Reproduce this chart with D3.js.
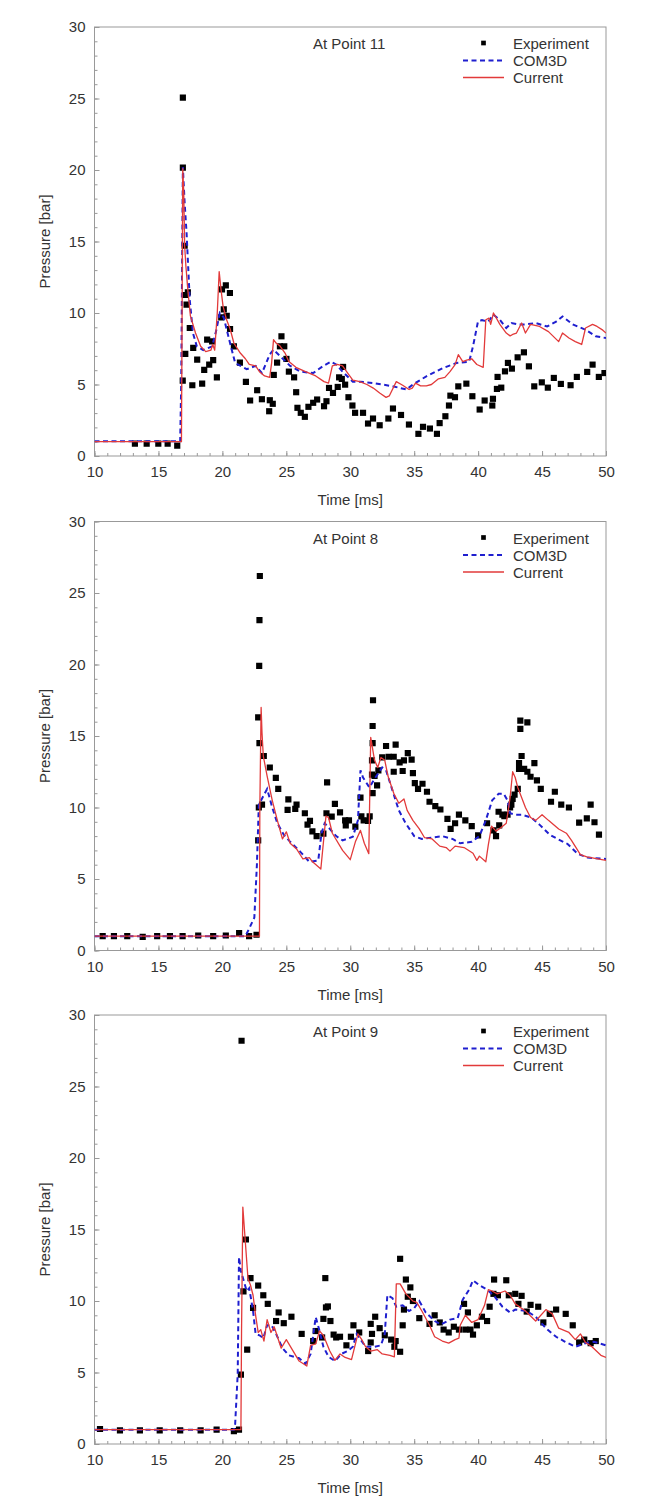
<!DOCTYPE html>
<html>
<head>
<meta charset="utf-8">
<script src="https://cdn.jsdelivr.net/npm/d3@7"></script>
<style>
  html, body { margin: 0; padding: 0; background: #fff; }
  svg { display: block; font-family: "Liberation Sans", Arial, sans-serif; }
</style>
</head>
<body>
<svg id="chart" width="665" height="1504"></svg>
<script>
// ---------- data ----------
const xTicks = [10, 15, 20, 25, 30, 35, 40, 45, 50];
const yTicks = [0, 5, 10, 15, 20, 25, 30];
const panelTitles = ["At Point 11", "At Point 8", "At Point 9"];
const legendLabels = ["Experiment", "COM3D", "Current"];
const xLabel = "Time [ms]";
const yLabel = "Pressure [bar]";

const p11Exp = [[13.16,0.87],[14.08,0.87],[14.99,0.87],[15.72,0.87],[16.47,0.73],
[16.91,25.06],[16.91,20.17],[17.05,14.7],[17.1,11.26],[17.3,11.44],[17.2,10.58],[17.45,8.95],[17.1,7.14],[17.72,7.56],[16.9,5.27],[17.65,4.95],[18.03,6.74],[18.42,5.06],[18.58,6.02],[18.81,8.14],[19.2,8.02],[18.97,6.39],[19.28,6.7],[19.57,5.5],[19.91,9.69],[19.97,11.65],[20.27,11.93],[20.59,11.4],[20.11,10.25],[20.34,9.81],[20.6,8.88],[20.9,7.67],[21.37,6.53],[21.84,5.18],[22.17,3.88],[22.72,4.6],[23.09,3.97],[23.71,3.9],[23.94,3.65],[23.66,3.13],[24.02,5.67],[24.28,6.53],[24.62,8.37],[24.5,7.67],[24.84,7.67],[25.01,6.79],[25.2,5.9],[25.61,5.5],[25.77,4.46],[25.87,3.37],[26.13,3.02],[26.45,2.74],[26.73,3.44],[27.1,3.72],[27.41,3.95],[27.95,3.48],[28.14,3.83],[28.34,4.76],[28.65,4.41],[29.02,4.83],[29.13,5.5],[29.34,5.39],[29.44,6.23],[29.6,4.99],[29.86,4.11],[30.17,3.53],[30.38,3.02],[31.0,3.02],[31.39,2.27],[31.78,2.62],[32.3,2.15],[32.98,2.62],[33.34,3.32],[33.97,2.87],[34.59,2.2],[35.33,1.55],[35.69,2.04],[36.23,1.92],[36.78,1.55],[36.99,2.3],[37.44,2.78],[37.72,3.53],[37.83,4.22],[38.19,4.11],[38.45,4.87],[39.08,5.06],[39.55,4.18],[40.12,3.25],[40.51,3.88],[41.11,3.53],[41.16,4.0],[41.47,4.69],[41.81,4.78],[41.52,5.53],[42.1,5.92],[42.33,6.51],[42.64,6.11],[43.09,6.9],[43.58,7.25],[43.97,6.27],[44.39,4.87],[44.98,5.15],[45.45,4.78],[45.92,5.46],[46.47,5.04],[47.23,4.95],[47.72,5.53],[48.53,5.88],[48.95,6.39],[49.44,5.53],[49.88,5.8]];

const p11Com = [[10,1.03],[16.7,1.03],[16.78,5],[16.91,20.2],[17.05,17.7],[17.2,15.6],[17.45,10.9],[17.7,8.6],[18.0,7.67],[18.5,7.4],[19.2,7.67],[19.5,8.7],[19.8,10.0],[20.1,9.7],[20.6,7.9],[21.0,6.5],[21.9,6.07],[22.6,6.3],[23.1,5.8],[23.7,7.1],[24.0,7.43],[24.5,7.0],[25.3,6.3],[26.1,5.9],[27.1,5.8],[27.9,6.3],[28.5,6.6],[28.9,6.4],[29.4,5.9],[30.2,5.2],[30.74,5.2],[31.8,5.1],[33.3,4.88],[34.4,4.65],[34.9,5.0],[35.95,5.57],[37.25,6.15],[38.3,6.5],[39.3,6.6],[39.6,7.67],[39.99,9.41],[40.3,9.5],[40.8,9.4],[41.2,9.88],[41.7,9.52],[42.2,8.95],[42.6,9.3],[43.2,9.2],[43.7,9.2],[44.5,9.3],[45.4,9.06],[46.1,9.4],[46.6,9.76],[47.4,9.2],[48.4,8.83],[49.2,8.37],[50,8.25]];

const p11Cur = [[10,1.0],[16.8,1.0],[16.85,10],[16.9,20.1],[16.98,18.4],[17.05,14.7],[17.15,13.25],[17.3,11.6],[17.5,9.8],[17.9,8.6],[18.3,7.67],[18.7,7.3],[19.1,7.4],[19.25,7.8],[19.4,7.4],[19.6,10],[19.75,12.9],[19.9,11.6],[20.05,10.5],[20.3,9.6],[20.6,8.9],[20.9,7.9],[21.4,7.2],[21.8,6.8],[22.1,6.4],[22.6,6.3],[22.9,5.9],[23.3,5.6],[23.7,5.5],[23.85,6.5],[24.0,8.14],[24.2,7.9],[24.5,7.7],[24.9,7.2],[25.2,6.6],[25.75,6.2],[26.5,5.9],[27.3,5.6],[27.95,5.2],[28.3,5.1],[28.6,6.3],[29.0,6.4],[29.4,6.3],[29.8,5.8],[30.2,5.3],[30.74,5.2],[31.3,5.0],[31.8,4.75],[32.3,4.4],[32.8,4.1],[33.05,4.2],[33.6,5.2],[34.1,4.95],[34.6,4.65],[34.85,4.75],[35.1,5.1],[35.5,4.9],[35.95,4.9],[36.35,5.0],[36.9,5.4],[37.4,5.5],[37.8,5.9],[38.2,6.39],[38.45,7.09],[38.8,6.6],[39.1,6.7],[39.5,6.8],[39.9,6.4],[40.4,6.2],[40.6,9.53],[40.85,9.64],[40.98,9.2],[41.2,10.0],[41.7,9.2],[42.2,8.6],[42.5,8.4],[42.7,8.5],[43.0,8.6],[43.4,9.3],[43.7,8.6],[44.1,9.2],[44.8,9.06],[45.5,8.7],[46.3,8.0],[46.6,8.6],[47.1,8.25],[47.6,8.0],[48.1,7.8],[48.4,8.95],[48.95,9.2],[49.3,9.06],[49.75,8.8],[50,8.6]];

const p8Exp = [[10.64,1.0],[11.52,1.0],[12.56,1.0],[13.77,0.95],[14.9,1.0],[15.9,1.0],[16.89,1.0],[18.11,1.05],[19.28,1.0],[20.27,1.05],[21.31,1.21],[22.09,1.0],[22.67,1.1],
[22.93,26.19],[22.9,23.1],[22.88,19.9],[22.8,16.3],[22.9,14.5],[23.24,13.6],[23.71,12.8],[24.18,12.07],[24.37,11.3],[22.85,10.0],[23.1,10.2],[22.8,7.7],[25.16,10.57],[25.1,9.83],[25.7,9.9],[25.8,10.2],[26.45,9.6],[26.85,9.06],[26.66,8.8],[27.04,8.33],[27.37,8.0],[27.9,8.17],[28.19,11.76],[28.14,9.6],[28.55,9.36],[28.8,10.25],[29.2,9.66],[29.6,9.1],[29.9,9.1],[29.65,8.75],[30.4,8.66],[30.8,10.69],[30.87,9.38],[31.05,9.1],[31.39,9.06],[31.52,9.38],
[31.78,17.5],[31.75,15.7],[31.75,14.5],[31.7,13.3],[31.7,12.3],[31.75,11.0],[31.9,12.2],[32.1,11.55],[32.2,12.6],[32.5,13.5],[32.8,14.3],[33.0,13.55],[33.4,13.55],[33.4,12.5],[33.55,14.4],[33.86,13.15],[34.2,13.3],[34.1,12.55],[34.5,13.8],[34.8,13.35],[34.9,12.4],[35.05,11.7],[35.3,11.3],[35.65,11.66],[36.0,11.1],[36.2,10.4],[36.65,10.1],[37.05,9.86],[37.6,9.2],[37.85,8.5],[38.2,8.9],[38.5,9.5],[39.0,9.1],[39.5,8.7],[40.0,8.05],[40.7,8.9],[41.2,8.4],[41.4,8.0],[41.6,9.7],[41.65,8.75],[41.9,9.5],[42.05,9.4],[42.3,9.5],[42.5,10.0],[42.6,10.2],[42.7,10.6],[42.85,10.9],[43.1,11.3],[43.2,13.1],[43.4,13.6],[43.3,15.5],[43.3,16.07],[43.85,15.95],[43.2,12.7],[43.6,12.7],[43.85,12.5],[44.1,12.15],[44.4,13.1],[44.6,11.9],[44.9,11.3],[45.7,10.4],[46.0,11.1],[46.5,10.2],[47.1,10.0],[47.9,8.94],[48.5,9.24],[48.8,10.2],[49.1,8.97],[49.45,8.1]];

const p8Com = [[10,1.0],[21.8,1.0],[22.15,1.63],[22.5,2.3],[22.7,6],[22.85,10.2],[23.5,11.3],[23.9,10.0],[24.3,8.9],[24.8,8.1],[25.3,7.6],[26.1,6.9],[26.8,6.2],[27.5,6.3],[27.75,8.2],[28.0,8.9],[28.4,8.5],[28.9,8.0],[29.4,7.7],[30.2,7.95],[30.6,9.1],[30.8,12.6],[31.0,12.1],[31.5,11.4],[31.9,12.0],[32.5,12.8],[32.8,12.6],[33.3,11.2],[33.8,9.8],[34.3,8.95],[35.0,8.0],[35.6,7.8],[36.4,7.9],[37.2,8.0],[38.0,7.8],[38.6,7.5],[39.5,7.6],[40.1,8.0],[40.6,9.1],[41.1,10.5],[41.6,10.96],[42.0,10.96],[42.3,10.5],[42.5,9.6],[42.9,9.5],[43.4,9.5],[44.15,9.3],[44.8,8.8],[45.6,8.1],[46.2,7.8],[47.0,7.45],[47.8,6.75],[48.55,6.5],[50,6.4]];

const p8Cur = [[10,1.0],[22.9,1.0],[22.93,10],[23.03,17.0],[23.1,15.2],[23.2,13.6],[23.5,12.2],[23.9,10.5],[24.3,9.1],[24.7,7.8],[25.0,8.3],[25.3,7.5],[25.8,7.1],[26.3,6.4],[26.8,6.5],[27.05,6.2],[27.7,5.7],[28.1,9.4],[28.3,9.3],[28.6,8.2],[29.4,7.0],[30.0,6.35],[30.4,7.6],[30.8,8.4],[31.1,7.5],[31.45,6.77],[31.6,14.9],[31.9,13.3],[32.15,12.8],[32.4,13.5],[32.7,13.3],[32.95,12.2],[33.4,11.0],[33.8,10.3],[34.2,10.6],[34.45,9.8],[34.9,9.1],[35.4,8.5],[35.8,7.9],[36.4,7.8],[37.0,7.3],[37.5,7.2],[37.8,6.95],[38.2,7.3],[38.9,7.2],[39.6,6.8],[39.9,6.3],[40.1,6.6],[40.6,6.2],[40.8,7.4],[41.05,8.7],[41.4,8.35],[41.8,8.6],[42.2,8.9],[42.5,10.7],[42.7,12.5],[42.9,12.1],[43.1,11.4],[43.7,10.0],[44.1,9.3],[44.5,9.1],[45.0,9.5],[45.5,9.1],[46.3,8.5],[46.9,8.2],[47.3,7.7],[48.0,6.7],[48.5,6.55],[50,6.3]];

const p9Exp = [[10.43,1.05],[11.99,0.95],[13.55,0.95],[15.1,0.95],[16.7,0.95],[18.3,0.95],[19.55,1.0],[20.9,0.9],[21.3,1.0],[21.45,4.85],[21.5,28.2],[21.84,14.3],[21.65,10.67],[21.94,6.6],[22.2,11.6],[22.4,9.52],[22.8,11.08],[23.2,10.4],[23.55,9.8],[24.2,8.6],[24.4,9.2],[24.8,8.45],[25.4,8.9],[26.2,7.7],[27.1,7.2],[27.3,7.9],[27.8,7.45],[27.9,8.75],[28.05,11.6],[28.1,9.55],[28.25,9.62],[28.45,8.6],[28.7,7.65],[28.9,7.45],[29.2,7.5],[29.7,6.9],[30.05,7.5],[30.25,8.3],[30.7,7.8],[31.4,6.5],[31.6,7.1],[31.6,8.4],[31.7,7.7],[31.95,8.9],[32.3,8.1],[32.7,7.6],[33.2,7.3],[33.45,6.8],[33.55,7.2],[33.9,6.45],[33.9,12.95],[34.1,8.3],[34.2,9.4],[34.35,11.5],[34.7,10.95],[34.5,10.3],[34.9,10.0],[35.4,8.8],[36.2,8.4],[36.6,9.0],[37.0,8.5],[37.3,8.0],[37.7,7.8],[38.1,8.2],[38.5,8.0],[39.0,8.0],[38.9,9.8],[39.2,9.2],[39.4,8.0],[39.6,7.65],[39.9,8.3],[40.3,8.9],[40.7,8.6],[40.9,9.6],[41.2,10.5],[41.25,11.5],[41.55,10.4],[42.2,11.45],[42.4,10.4],[42.9,10.5],[43.4,10.36],[43.15,9.8],[43.8,9.26],[44.1,9.73],[44.7,9.6],[45.1,8.5],[45.6,9.1],[46.1,9.4],[46.85,9.1],[47.4,8.3],[47.9,7.1],[48.3,7.3],[48.8,7.05],[49.2,7.2]];

const p9Com = [[10,1.0],[20.9,1.0],[21.0,1.4],[21.2,4.9],[21.3,13.07],[21.45,12.1],[21.9,10.7],[22.1,10.9],[22.4,9.3],[22.6,7.7],[22.9,7.6],[23.2,7.4],[23.5,8.3],[23.85,8.3],[24.2,7.7],[24.7,6.7],[25.2,6.2],[26.0,6.0],[26.5,5.6],[26.9,6.3],[27.3,8.87],[27.6,7.9],[27.9,6.8],[28.3,6.1],[28.8,5.8],[29.3,6.3],[29.8,6.5],[30.2,6.8],[30.5,7.7],[31.2,6.8],[31.9,6.8],[32.4,6.9],[32.7,7.7],[32.9,10.4],[33.3,10.2],[33.6,9.6],[34.1,9.7],[34.6,9.3],[35.0,9.5],[35.4,10.0],[35.9,9.2],[36.6,8.6],[37.1,8.36],[37.8,8.7],[38.4,8.8],[38.8,10.1],[39.3,10.8],[39.6,11.45],[40.1,11.1],[40.7,10.8],[41.3,10.3],[41.9,9.6],[42.5,9.2],[42.9,9.4],[43.8,9.3],[44.5,8.9],[45.3,8.1],[46.1,7.5],[46.8,7.15],[47.6,6.8],[48.4,7.05],[49.05,7.15],[50,6.9]];

const p9Cur = [[10,1.0],[21.45,1.0],[21.5,8],[21.6,16.57],[21.75,14.7],[22.0,11.6],[22.2,11.1],[22.4,10.4],[22.6,9.0],[22.8,7.8],[23.0,8.0],[23.25,7.2],[23.5,8.7],[23.8,7.8],[24.05,8.2],[24.6,6.7],[25.0,7.3],[25.5,6.55],[26.0,5.8],[26.6,5.45],[26.9,6.9],[27.3,7.0],[27.6,7.9],[27.9,7.6],[28.4,6.5],[28.8,5.85],[29.2,6.3],[29.6,6.05],[30.1,5.9],[30.6,7.7],[30.9,7.3],[31.2,6.8],[31.6,6.5],[32.1,6.6],[32.5,6.3],[33.1,6.2],[33.45,6.1],[33.6,11.2],[33.9,11.2],[34.35,10.5],[34.9,10.0],[35.2,9.9],[35.6,9.3],[36.2,8.3],[36.6,7.5],[37.2,7.2],[37.7,7.05],[38.2,7.3],[38.5,7.4],[38.6,8.3],[39.0,9.0],[39.5,8.5],[40.0,8.7],[40.5,9.7],[40.8,10.8],[41.1,10.7],[41.5,10.5],[42.1,10.7],[42.5,10.4],[42.9,9.8],[43.7,9.3],[44.5,8.6],[45.3,9.4],[45.8,9.1],[46.3,8.1],[47.1,7.8],[47.6,7.3],[48.0,7.7],[48.4,7.1],[48.9,6.8],[49.6,6.2],[50,6.05]];

const panels = [
  { title: panelTitles[0], exp: p11Exp, com: p11Com, cur: p11Cur },
  { title: panelTitles[1], exp: p8Exp,  com: p8Com,  cur: p8Cur },
  { title: panelTitles[2], exp: p9Exp,  com: p9Com,  cur: p9Cur }
];

// ---------- layout ----------
const svg = d3.select("#chart");
const left = 94.5, right = 606;
const tops = [27, 521.5, 1015];
const plotH = 429;
const textColor = "#333";
const frameColor = "#999";
const blue = "#1f1fcf";
const red = "#e23a3a";

const x = d3.scaleLinear().domain([10, 50]).range([left, right]);

panels.forEach((pd, i) => {
  const top = tops[i], bottom = top + plotH;
  const y = d3.scaleLinear().domain([0, 30]).range([bottom, top]);
  const g = svg.append("g");

  const clipId = "clip" + i;
  svg.append("clipPath").attr("id", clipId)
    .append("rect").attr("x", left).attr("y", top).attr("width", right - left).attr("height", plotH);

  const xAxisMinor = d3.axisTop(x).tickValues(d3.range(10, 51, 1)).tickSize(3).tickFormat("");
  const xAxisMajor = d3.axisTop(x).tickValues(xTicks).tickSize(5).tickFormat("");
  const yAxisMinor = d3.axisRight(y).tickValues(d3.range(0, 31, 1)).tickSize(3).tickFormat("");
  const yAxisMajor = d3.axisRight(y).tickValues(yTicks).tickSize(5).tickFormat("");
  [xAxisMinor, xAxisMajor].forEach(ax => {
    const a = g.append("g").attr("transform", `translate(0,${bottom})`).call(ax);
    a.select(".domain").remove();
    a.selectAll("line").attr("stroke", frameColor);
  });
  [yAxisMinor, yAxisMajor].forEach(ax => {
    const a = g.append("g").attr("transform", `translate(${left},0)`).call(ax);
    a.select(".domain").remove();
    a.selectAll("line").attr("stroke", frameColor);
  });

  const xl = g.append("g").attr("transform", `translate(0,${bottom})`)
    .call(d3.axisBottom(x).tickValues(xTicks).tickSize(0).tickPadding(0));
  xl.select(".domain").remove();
  xl.selectAll("text").attr("dy", null).attr("y", 21)
    .attr("font-size", 15).attr("font-family", "Liberation Sans, Arial, sans-serif").attr("fill", textColor);

  const yl = g.append("g").attr("transform", `translate(${left},0)`)
    .call(d3.axisLeft(y).tickValues(yTicks).tickSize(0).tickPadding(9));
  yl.select(".domain").remove();
  yl.selectAll("text")
    .attr("font-size", 15).attr("font-family", "Liberation Sans, Arial, sans-serif").attr("fill", textColor);

  g.append("rect").attr("x", left).attr("y", top).attr("width", right - left).attr("height", plotH)
    .attr("fill", "none").attr("stroke", frameColor).attr("stroke-width", 1);

  g.append("text").attr("x", (left + right) / 2).attr("y", bottom + 49)
    .attr("text-anchor", "middle").attr("font-size", 15).attr("fill", textColor).text(xLabel);
  g.append("text").attr("transform", `translate(50,${(top + bottom) / 2}) rotate(-90)`)
    .attr("text-anchor", "middle").attr("font-size", 15).attr("fill", textColor).text(yLabel);

  const plot = g.append("g").attr("clip-path", `url(#${clipId})`);
  const sq = d3.symbol().type(d3.symbolSquare).size(38);
  plot.selectAll("path.exp").data(pd.exp).join("path").attr("class", "exp")
    .attr("d", sq).attr("transform", d => `translate(${x(d[0])},${y(d[1])})`).attr("fill", "#000");

  const line = d3.line().x(d => x(d[0])).y(d => y(d[1]));
  plot.append("path").datum(pd.com).attr("d", line).attr("fill", "none")
    .attr("stroke", blue).attr("stroke-width", 2).attr("stroke-dasharray", "5,3.5");
  plot.append("path").datum(pd.cur).attr("d", line).attr("fill", "none")
    .attr("stroke", red).attr("stroke-width", 1.3).attr("stroke-linejoin", "round");

  g.append("text").attr("x", 313).attr("y", top + 22).attr("font-size", 15)
    .attr("fill", textColor).text(pd.title);

  const lg = g.append("g");
  const lx0 = 463, lx1 = 504, tx = 513;
  lg.append("path").attr("d", d3.symbol().type(d3.symbolSquare).size(22))
    .attr("transform", `translate(${(lx0 + lx1) / 2},${top + 16})`).attr("fill", "#000");
  lg.append("line").attr("x1", lx0).attr("x2", lx1).attr("y1", top + 33.5).attr("y2", top + 33.5)
    .attr("stroke", blue).attr("stroke-width", 2).attr("stroke-dasharray", "5,3.5");
  lg.append("line").attr("x1", lx0).attr("x2", lx1).attr("y1", top + 50.5).attr("y2", top + 50.5)
    .attr("stroke", red).attr("stroke-width", 1.3);
  legendLabels.forEach((lab, k) => {
    lg.append("text").attr("x", tx).attr("y", top + 22 + k * 17).attr("font-size", 15)
      .attr("fill", textColor).text(lab);
  });
});
</script>
</body>
</html>
